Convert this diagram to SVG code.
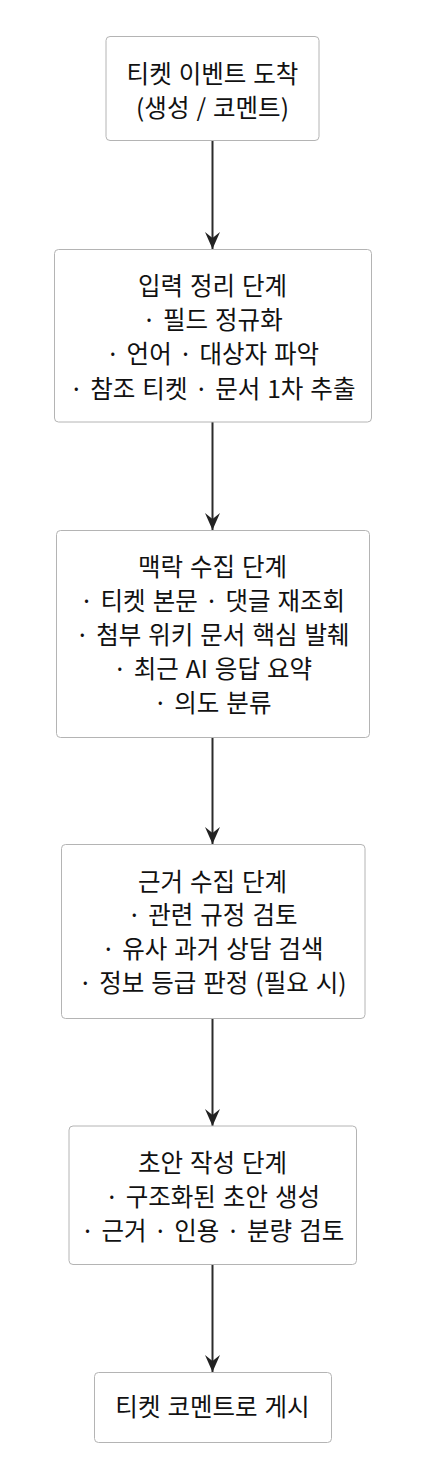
<svg xmlns="http://www.w3.org/2000/svg" width="426" height="1478" viewBox="0 0 426 1478">
<defs>
<style>
.box{fill:#ffffff;stroke:#b4b4b4;stroke-width:1}
.t{font-family:"Noto Sans CJK KR","Noto Sans",sans-serif;font-size:24.5px;font-weight:400;word-spacing:1.5px;fill:#111111;text-anchor:middle}
.edge{stroke:#2b2b2b;stroke-width:2;fill:none}
</style>
<marker id="arr" viewBox="-18 -9 20 18" refX="0" refY="0" markerWidth="20" markerHeight="18" markerUnits="userSpaceOnUse" orient="auto">
<path d="M0,0 L-17,-7.5 L-11,0 L-17,7.5 z" fill="#222222"/>
</marker>
</defs>
<rect width="426" height="1478" fill="#ffffff"/>
<g id="connectors">
<line class="edge" x1="212.5" y1="141" x2="212.5" y2="249" marker-end="url(#arr)"/>
<line class="edge" x1="212.5" y1="422" x2="212.5" y2="530" marker-end="url(#arr)"/>
<line class="edge" x1="212.5" y1="737" x2="212.5" y2="844" marker-end="url(#arr)"/>
<line class="edge" x1="212.5" y1="1018" x2="212.5" y2="1126" marker-end="url(#arr)"/>
<line class="edge" x1="212.5" y1="1264" x2="212.5" y2="1372" marker-end="url(#arr)"/>
</g>
<g id="n1">
<rect class="box" x="106" y="36.5" width="213" height="104" rx="4"/>
<text class="t" x="212.5" y="83">티켓 이벤트 도착</text>
<text class="t" x="212.5" y="116.5">(생성 / 코멘트)</text>
</g>
<g id="n2">
<rect class="box" x="54.5" y="249.5" width="317" height="172.5" rx="4"/>
<text class="t" x="212.5" y="295">입력 정리 단계</text>
<text class="t" x="212.5" y="329">· 필드 정규화</text>
<text class="t" x="212.5" y="363">· 언어 · 대상자 파악</text>
<text class="t" x="212.5" y="397.5">· 참조 티켓 · 문서 1차 추출</text>
</g>
<g id="n3">
<rect class="box" x="56.5" y="530.5" width="313" height="207" rx="4"/>
<text class="t" x="212.5" y="575.5">맥락 수집 단계</text>
<text class="t" x="212.5" y="609.5">· 티켓 본문 · 댓글 재조회</text>
<text class="t" x="212.5" y="643.5">· 첨부 위키 문서 핵심 발췌</text>
<text class="t" x="212.5" y="677.5">· 최근 AI 응답 요약</text>
<text class="t" x="212.5" y="711.5">· 의도 분류</text>
</g>
<g id="n4">
<rect class="box" x="61.5" y="844.5" width="303.5" height="174" rx="4"/>
<text class="t" x="212.5" y="890.5">근거 수집 단계</text>
<text class="t" x="212.5" y="924">· 관련 규정 검토</text>
<text class="t" x="212.5" y="958">· 유사 과거 상담 검색</text>
<text class="t" x="212.5" y="992">· 정보 등급 판정 (필요 시)</text>
</g>
<g id="n5">
<rect class="box" x="69" y="1126" width="287.5" height="138.5" rx="4"/>
<text class="t" x="212.5" y="1172">초안 작성 단계</text>
<text class="t" x="212.5" y="1206">· 구조화된 초안 생성</text>
<text class="t" x="212.5" y="1240">· 근거 · 인용 · 분량 검토</text>
</g>
<g id="n6">
<rect class="box" x="94.5" y="1372.5" width="237" height="70" rx="4"/>
<text class="t" x="212.5" y="1416">티켓 코멘트로 게시</text>
</g>
</svg>
